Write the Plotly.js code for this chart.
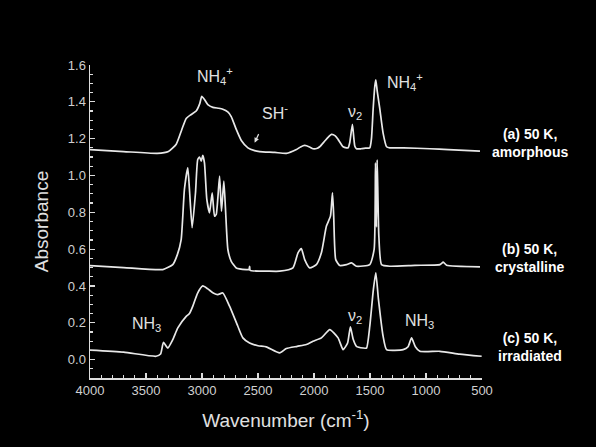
<!DOCTYPE html>
<html>
<head>
<meta charset="utf-8">
<script src="https://cdn.plot.ly/plotly-3.0.1.min.js"></script>
<style>html,body{margin:0;padding:0;background:#000;}#chart{width:596px;height:447px;}</style>
</head>
<body>
<div id="chart"></div>
<script>
// (a) 50 K, amorphous
const wnA = [4000, 3700, 3400, 3300, 3230, 3180, 3141, 3100, 3052, 3020, 3002, 2975, 2948, 2903, 2850, 2814, 2770, 2739, 2694, 2649, 2590, 2530, 2486, 2350, 2247, 2157, 2120, 2083, 2040, 2009, 1970, 1949, 1904, 1870, 1844, 1810, 1785, 1740, 1710, 1696, 1681, 1657, 1636, 1621, 1580, 1540, 1502, 1487, 1472, 1457, 1448, 1436, 1412, 1383, 1352, 1323, 1200, 965, 800, 518];
const absA = [1.14, 1.13, 1.12, 1.13, 1.17, 1.25, 1.31, 1.33, 1.35, 1.39, 1.43, 1.41, 1.385, 1.37, 1.365, 1.36, 1.345, 1.32, 1.25, 1.19, 1.15, 1.135, 1.13, 1.125, 1.12, 1.141, 1.155, 1.163, 1.155, 1.145, 1.148, 1.156, 1.187, 1.21, 1.223, 1.215, 1.196, 1.156, 1.15, 1.15, 1.178, 1.277, 1.16, 1.145, 1.145, 1.148, 1.15, 1.2, 1.36, 1.485, 1.52, 1.46, 1.36, 1.23, 1.156, 1.15, 1.15, 1.145, 1.14, 1.132];

// (b) 50 K, crystalline
const wnB = [4000, 3700, 3350, 3261, 3220, 3186, 3157, 3127, 3112, 3088, 3058, 3038, 3022, 3007, 2993, 2978, 2957, 2933, 2909, 2888, 2873, 2843, 2826, 2805, 2790, 2769, 2739, 2694, 2605, 2580, 2575, 2570, 2400, 2307, 2188, 2143, 2113, 2083, 2038, 1979, 1934, 1889, 1853, 1835, 1824, 1806, 1770, 1710, 1665, 1621, 1502, 1463, 1451, 1443, 1436, 1421, 1397, 1323, 1100, 876, 846, 816, 518];
const absB = [0.51, 0.5, 0.489, 0.516, 0.57, 0.652, 0.924, 1.042, 0.924, 0.716, 0.906, 1.087, 1.10, 1.078, 1.109, 1.069, 0.87, 0.797, 0.906, 0.779, 0.788, 0.996, 0.806, 0.969, 0.815, 0.598, 0.534, 0.498, 0.489, 0.489, 0.507, 0.485, 0.48, 0.48, 0.498, 0.58, 0.603, 0.543, 0.498, 0.516, 0.58, 0.725, 0.779, 0.906, 0.779, 0.543, 0.511, 0.516, 0.525, 0.507, 0.516, 0.598, 1.069, 0.72, 1.085, 0.67, 0.516, 0.507, 0.512, 0.516, 0.529, 0.512, 0.504];

// (c) 50 K, irradiated
const wnC = [4000, 3700, 3410, 3370, 3344, 3306, 3260, 3216, 3141, 3112, 3082, 3040, 2993, 2948, 2900, 2859, 2814, 2754, 2680, 2635, 2575, 2500, 2426, 2307, 2247, 2150, 2068, 2009, 1934, 1859, 1785, 1740, 1700, 1675, 1650, 1621, 1561, 1531, 1502, 1470, 1448, 1425, 1383, 1352, 1204, 1160, 1129, 1095, 1055, 876, 700, 503];
const absC = [0.051, 0.04, 0.018, 0.03, 0.094, 0.063, 0.11, 0.172, 0.235, 0.25, 0.29, 0.36, 0.4, 0.384, 0.362, 0.353, 0.362, 0.29, 0.181, 0.118, 0.09, 0.075, 0.069, 0.036, 0.06, 0.072, 0.082, 0.1, 0.118, 0.163, 0.118, 0.054, 0.09, 0.178, 0.11, 0.072, 0.063, 0.063, 0.181, 0.38, 0.471, 0.33, 0.127, 0.054, 0.054, 0.07, 0.118, 0.07, 0.045, 0.045, 0.03, 0.018];

const lineStyle = {color: '#e8e8e8', width: 1.7, shape: 'spline', smoothing: 0.5};
const traces = [
  {x: wnA, y: absA, type: 'scatter', mode: 'lines', line: lineStyle, hoverinfo: 'skip'},
  {x: wnB, y: absB, type: 'scatter', mode: 'lines', line: lineStyle, hoverinfo: 'skip'},
  {x: wnC, y: absC, type: 'scatter', mode: 'lines', line: lineStyle, hoverinfo: 'skip'}
];

const F = 'Arial, "Liberation Sans", sans-serif';
const txt = '#e0e0e0';
const lab = (x, y, t) => ({x: x, y: y, xref: 'x', yref: 'y', text: t, showarrow: false, font: {family: F, size: 16, color: txt}});
const side = (y, t) => ({x: 1.122, y: y, xref: 'paper', yref: 'paper', text: t, showarrow: false, xanchor: 'center', yanchor: 'middle', font: {family: F, size: 14, color: '#ffffff', weight: 'bold'}});

const layout = {
  width: 596, height: 447,
  paper_bgcolor: '#000', plot_bgcolor: '#000',
  margin: {l: 90, r: 114, t: 65, b: 69},
  showlegend: false,
  font: {family: F, color: txt},
  xaxis: {
    range: [4000, 500], tickvals: [4000, 3500, 3000, 2500, 2000, 1500, 1000, 500],
    ticks: 'inside', ticklen: 5, tickwidth: 1.2, tickcolor: '#ddd',
    minor: {dtick: 100, ticks: 'inside', ticklen: 3, tickcolor: '#ddd'},
    showline: true, linecolor: '#ddd', linewidth: 1.5, showgrid: false, zeroline: false,
    tickfont: {family: F, size: 13, color: '#d0d0d0'},
    title: {text: 'Wavenumber (cm<sup>-1</sup>)', font: {family: F, size: 19, color: txt}, standoff: 16}
  },
  yaxis: {
    range: [-0.1, 1.6], tickvals: [0, 0.2, 0.4, 0.6, 0.8, 1.0, 1.2, 1.4, 1.6], tickformat: '.1f',
    ticks: 'inside', ticklen: 5, tickwidth: 1.2, tickcolor: '#ddd',
    minor: {dtick: 0.05, ticks: 'inside', ticklen: 3, tickcolor: '#ddd'},
    showline: true, linecolor: '#ddd', linewidth: 1.5, showgrid: false, zeroline: false,
    tickfont: {family: F, size: 13, color: '#d0d0d0'},
    title: {text: 'Absorbance', font: {family: F, size: 19, color: txt}, standoff: 14}
  },
  annotations: [
    lab(2888, 1.54, 'NH<sub>4</sub><sup>+</sup>'),
    lab(1636, 1.34, 'ν<sub>2</sub>'),
    lab(1189, 1.51, 'NH<sub>4</sub><sup>+</sup>'),
    lab(2352, 1.345, 'SH<sup>-</sup>'),
    {x: 2530, y: 1.178, xref: 'x', yref: 'y', text: ' ', showarrow: true, ax: 7, ay: -15, arrowhead: 2, arrowsize: 0.8, arrowwidth: 1.2, arrowcolor: '#e0e0e0'},
    lab(3499, 0.19, 'NH<sub>3</sub>'),
    lab(1636, 0.235, 'ν<sub>2</sub>'),
    lab(1055, 0.208, 'NH<sub>3</sub>'),
    side(0.751, '(a) 50 K,<br>amorphous'),
    side(0.383, '(b) 50 K,<br>crystalline'),
    side(0.099, '(c) 50 K,<br>irradiated')
  ]
};

Plotly.newPlot('chart', traces, layout, {staticPlot: true, displayModeBar: false});
</script>
</body>
</html>
